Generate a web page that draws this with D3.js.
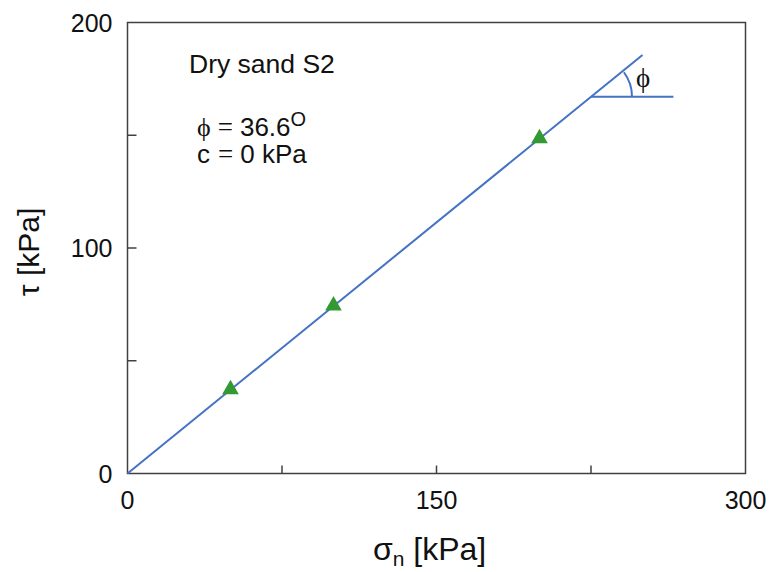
<!DOCTYPE html>
<html lang="en">
<head>
<meta charset="UTF-8">
<title>Dry sand S2 shear test</title>
<style>
  body { margin: 0; background: #fff; }
  text { font-family: "Liberation Sans", Arial, sans-serif; fill: #111; }
  .sym { font-family: "Liberation Serif", "DejaVu Serif", serif; }
</style>
</head>
<body>
<script src="https://d3js.org/d3.v7.min.js"></script>
<script>
// measured points (sigma_n, tau) in kPa
const sigmaN = [50, 100, 200]
const tau = [37.3, 74.4, 148.6]

// failure envelope
const envX = [0, 250]
const envY = [0, 185.6]
const vertex = [225, 167.1]   // where the angle is marked
const horizEnd = 265
const phiDeg = 36.6

const xTicks = [0, 75, 150, 225, 300]
const xLabels = [0, 150, 300]
const yTicks = [0, 50, 100, 150, 200]
const yLabels = [0, 100, 200]

const m = { width: 770, height: 572, left: 127.5, right: 745.5, top: 22.5, bottom: 473.5 }

const svg = d3.select("body").append("svg")
    .attr("width", m.width)
    .attr("height", m.height)

const x = d3.scaleLinear().domain([0, 300]).range([m.left, m.right])
const y = d3.scaleLinear().domain([0, 200]).range([m.bottom, m.top])

const axisColor = "#404040"

// frame
svg.append("rect")
    .attr("x", m.left).attr("y", m.top)
    .attr("width", m.right - m.left).attr("height", m.bottom - m.top)
    .attr("fill", "none").attr("stroke", axisColor).attr("stroke-width", 1.5)

// inward ticks
svg.selectAll(".xt")
    .data(xTicks.filter(d => d > 0 && d < 300))
    .enter().append("line")
    .attr("x1", d => x(d)).attr("x2", d => x(d))
    .attr("y1", m.bottom).attr("y2", m.bottom - 8)
    .attr("stroke", axisColor).attr("stroke-width", 1.5)

svg.selectAll(".yt")
    .data(yTicks.filter(d => d > 0 && d < 200))
    .enter().append("line")
    .attr("x1", m.left).attr("x2", m.left + 9)
    .attr("y1", d => y(d)).attr("y2", d => y(d))
    .attr("stroke", axisColor).attr("stroke-width", 1.5)

// tick labels
svg.selectAll(".xl")
    .data(xLabels)
    .enter().append("text")
    .attr("x", d => x(d))
    .attr("y", m.bottom + 35)
    .attr("text-anchor", "middle")
    .attr("font-size", 25)
    .text(d => d)

svg.selectAll(".yl")
    .data(yLabels)
    .enter().append("text")
    .attr("x", m.left - 15)
    .attr("y", d => y(d) + 9)
    .attr("text-anchor", "end")
    .attr("font-size", 25)
    .text(d => d)

// axis titles
const xt = svg.append("text")
    .attr("x", 373)
    .attr("y", 560)
    .attr("font-size", 32)
xt.append("tspan").text("σ")
xt.append("tspan").attr("font-size", 21).attr("dy", 6).text("n")
xt.append("tspan").attr("dy", -6).text(" [kPa]")

svg.append("text")
    .attr("transform", "translate(39,252) rotate(-90)")
    .attr("text-anchor", "middle")
    .attr("font-size", 30)
    .text("τ [kPa]")

// envelope line
const line = d3.line().x(d => x(d[0])).y(d => y(d[1]))
svg.append("path")
    .attr("d", line(d3.zip(envX, envY)))
    .attr("fill", "none").attr("stroke", "#4472c4").attr("stroke-width", 2)

svg.append("path")
    .attr("d", line([vertex, [horizEnd, vertex[1]]]))
    .attr("fill", "none").attr("stroke", "#4472c4").attr("stroke-width", 2)

const arc = d3.arc()
    .innerRadius(41).outerRadius(41)
    .startAngle(Math.PI / 2 - phiDeg * Math.PI / 180)
    .endAngle(Math.PI / 2)
svg.append("path")
    .attr("transform", `translate(${x(vertex[0])},${y(vertex[1])})`)
    .attr("d", arc())
    .attr("fill", "none").attr("stroke", "#4472c4").attr("stroke-width", 2)

svg.append("text")
    .attr("class", "sym")
    .attr("x", 643).attr("y", 87)
    .attr("text-anchor", "middle")
    .attr("font-size", 27)
    .text("ϕ")

// measured points
svg.selectAll(".pt")
    .data(d3.zip(sigmaN, tau))
    .enter().append("path")
    .attr("transform", d => `translate(${x(d[0])},${y(d[1])})`)
    .attr("d", d3.symbol().type(d3.symbolTriangle).size(120))
    .attr("fill", "#339933")

// annotations
svg.append("text")
    .attr("x", 189).attr("y", 73)
    .attr("font-size", 26.5)
    .text("Dry sand S2")

const t1 = svg.append("text")
    .attr("x", 197).attr("y", 136)
    .attr("font-size", 26)
t1.append("tspan").attr("class", "sym").attr("font-size", 26).text("ϕ")
t1.append("tspan").attr("class", "sym").attr("dx", 7).attr("font-size", 27).text("=")
t1.append("tspan").attr("dx", 7).text("36.6")
t1.append("tspan").attr("font-size", 20).attr("dy", -10).text("O")

const t2 = svg.append("text")
    .attr("x", 197).attr("y", 163)
    .attr("font-size", 26)
t2.append("tspan").text("c")
t2.append("tspan").attr("class", "sym").attr("dx", 8).attr("font-size", 27).text("=")
t2.append("tspan").attr("dx", 7).text("0 kPa")
</script>
</body>
</html>
